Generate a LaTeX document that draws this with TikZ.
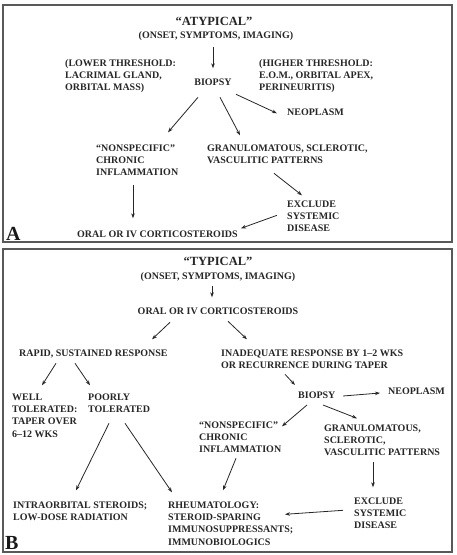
\documentclass[tikz,border=0pt]{standalone}
\usepackage{fontspec}
\setmainfont{Liberation Serif}
\usetikzlibrary{arrows.meta,calc}
\begin{document}
\begin{tikzpicture}[x=1pt,y=-1pt,
  txt/.style={inner sep=0pt,align=left,text=black!85,font=\bfseries\fontsize{10}{12.3}\selectfont},
  big/.style={inner sep=0pt,text=black!85,font=\bfseries\fontsize{12.5}{14}\selectfont},
  lab/.style={inner sep=0pt,text=black!90,font=\bfseries\fontsize{20}{22}\selectfont},
  arr/.style={draw=black!85,line width=0.8pt,-{Stealth[length=5pt,width=3.6pt]}},
  frame/.style={draw=black!65,line width=1.3pt}]
\useasboundingbox (0,0) rectangle (456,555);
\draw[frame] (3,5) rectangle (452,242);
\draw[frame] (3,249) rectangle (452,552);
% Panel A
\node[big,anchor=base] (atyp) at (214,25) {“ATYPICAL”};
\node[txt,anchor=base] (onsetA) at (216,38.3) {(ONSET, SYMPTOMS, IMAGING)};
\node[txt,anchor=base west] (lowA) at (65,90.9) {(LOWER THRESHOLD:\\LACRIMAL GLAND,\\ORBITAL MASS)};
\node[txt,anchor=base] (bA) at (213,85.3) {BIOPSY};
\node[txt,anchor=base west] (highA) at (259,90.9) {(HIGHER THRESHOLD:\\E.O.M., ORBITAL APEX,\\PERINEURITIS)};
\node[txt,anchor=base west] (neoA) at (287,115.3) {NEOPLASM};
\node[txt,anchor=base west] (nonA) at (96,175.9) {“NONSPECIFIC”\\CHRONIC\\INFLAMMATION};
\node[txt,anchor=base west] (granA) at (207,163.6) {GRANULOMATOUS, SCLEROTIC,\\VASCULITIC PATTERNS};
\node[txt,anchor=base west] (exA) at (287,231.9) {EXCLUDE\\SYSTEMIC\\DISEASE};
\node[txt,anchor=base west] (oralA) at (77,237.3) {ORAL OR IV CORTICOSTEROIDS};
\node[lab,anchor=base west] (labA) at (6,240) {A};
\draw[arr] ($(onsetA.base)+(-3,9)$) -- ($(bA.base)+(0,-17)$);
\draw[arr] ($(bA.base)+(-15,12)$) -- ($(nonA.base west)+(72,-43.6)$);
\draw[arr] ($(bA.base)+(7,12)$) -- ($(granA.base west)+(33,-28.3)$);
\draw[arr] ($(bA.base)+(23,9)$) -- ($(neoA.base west)+(-10,-2)$);
\draw[arr] ($(nonA.base west)+(37,9.4)$) -- ($(oralA.base west)+(56,-19)$);
\draw[arr] ($(granA.base west)+(67,9.7)$) -- ($(exA.base west)+(15,-36.6)$);
\draw[arr] ($(exA.base west)+(-10,-16.6)$) -- ($(oralA.base west)+(164,-9)$);
% Panel B
\node[big,anchor=base] (typ) at (218,265) {“TYPICAL”};
\node[txt,anchor=base] (onsetB) at (218,279.3) {(ONSET, SYMPTOMS, IMAGING)};
\node[txt,anchor=base] (oralB) at (218,314.3) {ORAL OR IV CORTICOSTEROIDS};
\node[txt,anchor=base west] (rapid) at (19,356.3) {RAPID, SUSTAINED RESPONSE};
\node[txt,anchor=base west] (inad) at (221,368.6) {INADEQUATE RESPONSE BY 1–2 WKS\\OR RECURRENCE DURING TAPER};
\node[txt,anchor=base west] (bB) at (298,398) {BIOPSY};
\node[txt,anchor=base west] (neoB) at (388,394) {NEOPLASM};
\node[txt,anchor=base west] (well) at (12,437.2) {WELL\\TOLERATED:\\TAPER OVER\\6–12 WKS};
\node[txt,anchor=base west] (poorly) at (88,412.6) {POORLY\\TOLERATED};
\node[txt,anchor=base west] (nonB) at (199,452.9) {“NONSPECIFIC”\\CHRONIC\\INFLAMMATION};
\node[txt,anchor=base west] (granB) at (324,455.9) {GRANULOMATOUS,\\SCLEROTIC,\\VASCULITIC PATTERNS};
\node[txt,anchor=base west] (intra) at (13,520.6) {INTRAORBITAL STEROIDS;\\LOW-DOSE RADIATION};
\node[txt,anchor=base west] (rheum) at (168,545.2) {RHEUMATOLOGY:\\STEROID-SPARING\\IMMUNOSUPPRESSANTS;\\IMMUNOBIOLOGICS};
\node[txt,anchor=base west] (exB) at (354,528.9) {EXCLUDE\\SYSTEMIC\\DISEASE};
\node[lab,anchor=base west] (labB) at (5,549) {B};
\draw[arr] ($(onsetB.base)+(-6,7)$) -- ($(oralB.base)+(-6,-17)$);
\draw[arr] ($(oralB.base)+(-48,8)$) -- ($(rapid.base west)+(133,-17)$);
\draw[arr] ($(oralB.base)+(10,7)$) -- ($(inad.base west)+(26,-29.3)$);
\draw[arr] ($(rapid.base west)+(37,7)$) -- ($(well.base west)+(30,-51.9)$);
\draw[arr] ($(rapid.base west)+(56,7)$) -- ($(poorly.base west)+(2,-27.3)$);
\draw[arr] ($(inad.base west)+(64,5.7)$) -- ($(bB.base west)+(-3,-13)$);
\draw[arr] ($(bB.base west)+(45,-2)$) -- ($(neoB.base west)+(-8,-1)$);
\draw[arr] ($(bB.base west)+(9,7)$) -- ($(nonB.base west)+(83,-26.6)$);
\draw[arr] ($(bB.base west)+(25,7)$) -- ($(granB.base west)+(33,-37.6)$);
\draw[arr] ($(poorly.base west)+(21,10.7)$) -- ($(intra.base west)+(63,-30.3)$);
\draw[arr] ($(poorly.base west)+(37,10.7)$) -- ($(rheum.base west)+(4,-52.9)$);
\draw[arr] ($(nonB.base west)+(37,5.4)$) -- ($(rheum.base west)+(55,-54.9)$);
\draw[arr] ($(granB.base west)+(49,6.4)$) -- ($(exB.base west)+(19,-41.6)$);
\draw[arr] ($(exB.base west)+(-11,-18.6)$) -- ($(rheum.base west)+(117,-30.9)$);
\end{tikzpicture}
\end{document}
